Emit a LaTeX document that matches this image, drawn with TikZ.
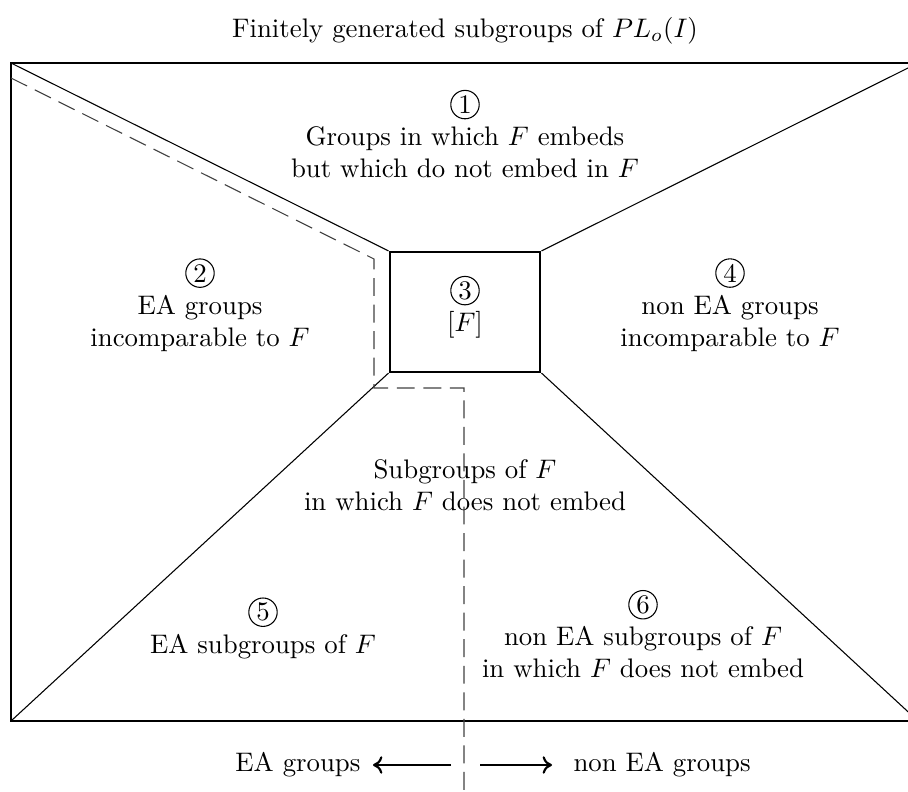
\documentclass[tikz,border=0pt]{standalone}
\usetikzlibrary{arrows.meta}
\newcommand\cnum[1]{\tikz[baseline=(cn.base)]\node[circle,draw,line width=0.4pt,inner sep=0pt,minimum size=10.6pt](cn){#1};}
\begin{document}
\begin{tikzpicture}[x=0.373pt,y=-0.373pt,
  frame/.style={line width=0.75pt},
  diag/.style={line width=0.4pt},
  dsh/.style={line width=0.4pt,black!75,dash pattern=on 6.7pt off 3.2pt},
  lbl/.style={align=center,inner sep=0pt},
  arr/.style={line width=0.8pt,-{To[length=3.5pt,width=6.5pt]}}]
\useasboundingbox (0,0) rectangle (908,792);
% corners
\coordinate (TL) at (11,63);
\coordinate (TR) at (918,63);
\coordinate (BL) at (11,721);
\coordinate (BR) at (918,721);
\node[draw,frame,minimum width=56.3pt,minimum height=44.8pt,inner sep=0pt] (box) at (465,312) {};
% outer frame
\draw[frame] (TL) rectangle (BR);
% diagonals
\draw[diag] (TL) -- (box.north west);
\draw[diag] (TR) -- (box.north east);
\draw[diag] (BL) -- (box.south west);
\draw[diag] (BR) -- (box.south east);
% dashed boundary
\coordinate (d0) at (11,78);
\coordinate (d1) at (374,259);
\coordinate (d2) at (374,388);
\coordinate (d3) at (464,388);
\coordinate (d4) at (464,800);
\draw[dsh] (d0) -- (d1) -- (d2) -- (d3) -- (d4);
% texts
\node[lbl] (title) at (465,31) {Finitely generated subgroups of $PL_o(I)$};
\node[lbl] (r1) at (465,134) {\cnum{1}\\Groups in which $F$ embeds\\but which do not embed in $F$};
\node[lbl] (r2) at (200,305) {\cnum{2}\\EA groups\\incomparable to $F$};
\node[lbl] (r3) at (465,307) {\cnum{3}\\$[F]$};
\node[lbl] (r4) at (730,305) {\cnum{4}\\non EA groups\\incomparable to $F$};
\node[lbl] (sub) at (465,485) {Subgroups of $F$\\in which $F$ does not embed};
\node[lbl] (r5) at (263,628) {\cnum{5}\\EA subgroups of $F$};
\node[lbl] (r6) at (643,634) {\cnum{6}\\non EA subgroups of $F$\\in which $F$ does not embed};
% bottom arrows
\node[lbl,anchor=east] (ea) at (361,765) {EA groups};
\node[lbl,anchor=west] (nea) at (573,765) {non EA groups};
\coordinate (a0) at (451,765);
\coordinate (a1) at (480,765);
\draw[arr,shorten >=12pt*0.373] (a0) -- (ea.east);
\draw[arr,shorten >=21pt*0.373] (a1) -- (nea.west);
\end{tikzpicture}
\end{document}
